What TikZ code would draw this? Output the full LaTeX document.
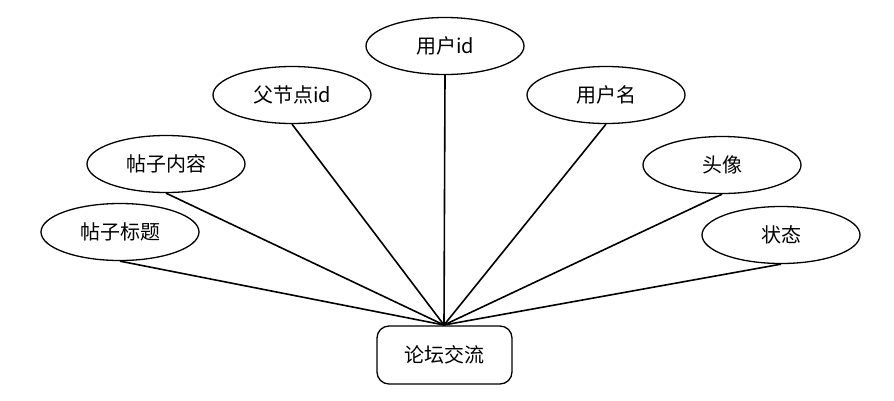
\documentclass[tikz,border=0pt]{standalone}
\usepackage{fontspec}
\newfontfamily\cjk{Noto Sans CJK SC}
\usetikzlibrary{shapes.geometric}
\begin{document}
\begin{tikzpicture}[x=1pt,y=-1pt,
  attr/.style={ellipse,draw,line width=1.3pt,minimum width=158pt,minimum height=57pt,inner sep=0pt,font=\cjk\fontsize{20}{24}\selectfont},
  entity/.style={draw,rounded corners=12pt,line width=1.3pt,minimum width=135pt,minimum height=58pt,inner sep=0pt,font=\cjk\fontsize{20}{24}\selectfont},
  link/.style={line width=1.6pt}]
\useasboundingbox (0,0) rectangle (894,400);
\node[entity] (e) at (444.5,355) {论坛交流};
\coordinate (c) at (444,325);
\node[attr] (a1) at (120,232) {帖子标题};
\node[attr] (a2) at (166,164) {帖子内容};
\node[attr] (a3) at (292,95) {父节点id};
\node[attr] (a4) at (445,46) {用户id};
\node[attr] (a5) at (606,95) {用户名};
\node[attr] (a6) at (722,165) {头像};
\node[attr] (a7) at (781,235) {状态};
\foreach \n in {a1,a2,a3,a4,a5,a6,a7} \draw[link] (\n.south) -- (c);
\end{tikzpicture}
\end{document}
